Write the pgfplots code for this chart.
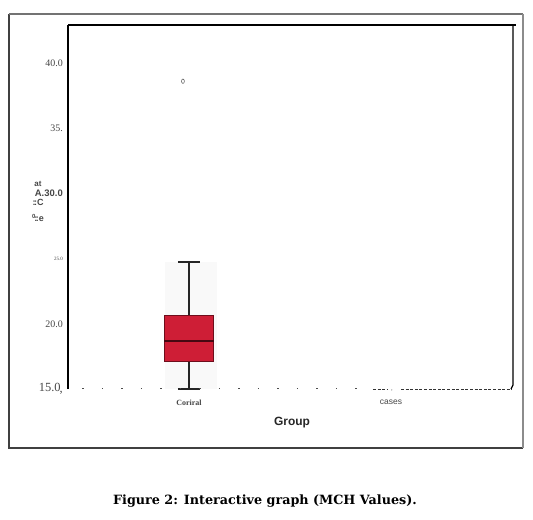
\documentclass[border=0pt]{standalone}
\usepackage{fontspec}
\setmainfont{Liberation Serif}
\setsansfont{Liberation Sans}
\newfontfamily\capfont{DejaVu Serif}
\usepackage{pgfplots}
\pgfplotsset{compat=1.18}
\usepgfplotslibrary{statistics}
\definecolor{boxred}{RGB}{206,30,54}
\definecolor{boxdark}{RGB}{110,14,28}
\definecolor{meddark}{RGB}{70,8,18}
\definecolor{lbl}{RGB}{70,70,70}

\begin{document}
\begin{tikzpicture}
% page = 533 x 520 px, y measured from the bottom
\useasboundingbox (0,0) rectangle (533bp,520bp);
\begin{scope}[x=1bp,y=1bp]
% outer frame
\draw[line width=1.3bp, black!75] (9,506) -- (9,72) -- (523,72);
\draw[line width=1.3bp, black!55] (9,506) -- (523,506);
\draw[line width=1.3bp, black!45] (523,506) -- (523,72);
\end{scope}

\begin{axis}[
  at={(68bp,131bp)}, anchor=south west,
  scale only axis, width=445bp, height=364bp,
  xmin=0.401, xmax=2.604,
  ymin=15, ymax=42.91,
  axis line style={draw=none},
  major tick length=0pt,
  xtick={1,2},
  xticklabels={{\bfseries\fontsize{8}{9}\selectfont Coriral},
               {\sffamily\fontsize{8.5}{10}\selectfont cases}},
  xticklabel style={yshift=-7bp, text=lbl},
  ytick={15,20,25,30,35,40},
  yticklabels={{\fontsize{12.5}{13}\selectfont 15.0\kern-1pt\raisebox{-1pt}{,}},
               {\fontsize{10}{11}\selectfont 20.0},
               {\fontsize{5}{6}\selectfont 25.0},
               {\sffamily\bfseries\fontsize{9.5}{10}\selectfont\kern3bp A.30.0},
               {\fontsize{10}{11}\selectfont 35.},
               {\fontsize{10}{11}\selectfont 40.0}},
  yticklabel style={inner sep=0pt, xshift=-5bp, text=lbl},
  clip=false,
]
% faint band behind the box
\fill[black!2.5] (axis cs:0.88,15) rectangle (axis cs:1.14,24.74);

\addplot[
  boxplot/draw direction=y,
  boxplot prepared={
    draw position=1,
    lower whisker=15, lower quartile=17.15,
    median=18.68,
    upper quartile=20.67, upper whisker=24.74,
    box extend=0.243, whisker extend=0.109,
    every box/.style={draw=boxdark, fill=boxred, line width=0.9bp},
    every median/.style={draw=meddark, line width=1.6bp},
    every whisker/.style={draw=black!85, line width=1.3bp},
  },
] coordinates {};

% outlier
\addplot[only marks, mark=o, mark size=2.2bp,
  mark options={xscale=0.65, draw=black!70, line width=0.5bp}]
  coordinates {(0.97,38.6)};
\end{axis}

\begin{scope}[x=1bp,y=1bp]
% inner frame
\draw[line width=1.2bp] (68,495) -- (68,131);
\draw[line width=1.2bp] (68,495) -- (516,495);
\draw[line width=1.2bp] (513,495) -- (513,135) -- (511,131);
% broken baseline
\draw[line width=1bp, black!70, dash pattern=on 1.2bp off 18.3bp] (82.4,131) -- (362,131);
\draw[line width=0.8bp, black!80, dash pattern=on 3bp off 1.6bp] (373,131) -- (388,131);
\node[inner sep=0pt, font=\sffamily\fontsize{6}{6}\selectfont, text=black!80] at (392,129) {,};
\draw[line width=0.8bp, black!80, dash pattern=on 3bp off 1.6bp] (401,131) -- (512,131);

% remnants of the y label
\node[inner sep=0pt, font=\sffamily\bfseries\fontsize{8}{8}\selectfont, text=lbl] at (38,336) {at};
\node[inner sep=0pt, font=\sffamily\bfseries\fontsize{9}{9}\selectfont, text=lbl] at (38,318) {:\!:C};
\node[inner sep=0pt, font=\sffamily\bfseries\fontsize{9}{9}\selectfont, text=lbl] at (38,302) {\textsuperscript{0}\!:\!:e};

% axis title and caption
\node[font=\sffamily\bfseries\fontsize{12}{14}\selectfont, text=black!85] at (292,97) {Group};
\node[font=\capfont\bfseries\fontsize{12.8}{15}\selectfont] at (265,19) {Figure 2: Interactive graph (MCH Values).};
\end{scope}
\end{tikzpicture}
\end{document}
